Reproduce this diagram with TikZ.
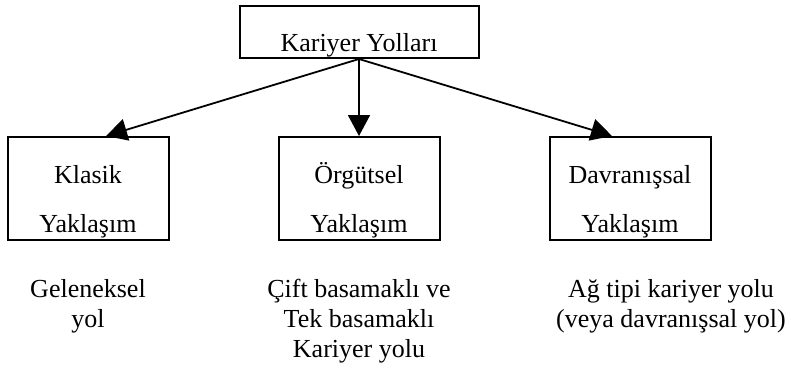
\documentclass[tikz,border=0pt]{standalone}
\usepackage{fontspec}
\setmainfont{Liberation Serif}
\usetikzlibrary{arrows.meta,positioning}

\begin{document}
\begin{tikzpicture}[
  node distance=77pt and 108pt,
  every node/.style={font=\fontsize{26}{30}\selectfont, inner sep=2pt},
  ana/.style={draw, line width=2pt, minimum width=239pt, text height=43pt, text depth=5pt},
  yaklasim/.style={draw, line width=2pt, minimum width=161pt, align=center,
    font=\fontsize{26}{49}\selectfont, text height=93pt, text depth=6pt},
  yol/.style={align=center, inner sep=0pt},
  arr/.style={-{Triangle[length=21pt, width=22pt]}, line width=1.8pt}
]
  \useasboundingbox (0,0) rectangle (791pt,-375pt);
  \node[ana] (yollar) at (359pt,-32pt) {Kariyer Yolları};
  \node[yaklasim, below=of yollar] (orgutsel) {Örgütsel\\Yaklaşım};
  \node[yaklasim, left=of orgutsel] (klasik) {Klasik\\Yaklaşım};
  \node[yaklasim, right=of orgutsel] (davranissal) {Davranışsal\\Yaklaşım};

  \node[yol, below=38pt of klasik] (geleneksel) {Geleneksel\\yol};
  \node[yol, below=38pt of orgutsel] (basamakli) {Çift basamaklı ve\\Tek basamaklı\\Kariyer yolu};
  \node[yol, below=38pt of davranissal, xshift=41pt] (ag) {Ağ tipi kariyer yolu\\(veya davranışsal yol)};

  \draw[arr] (yollar.south) -- ([xshift=18pt]klasik.north);
  \draw[arr] (yollar.south) -- (orgutsel);
  \draw[arr] (yollar.south) -- ([xshift=-18pt]davranissal.north);
\end{tikzpicture}
\end{document}
